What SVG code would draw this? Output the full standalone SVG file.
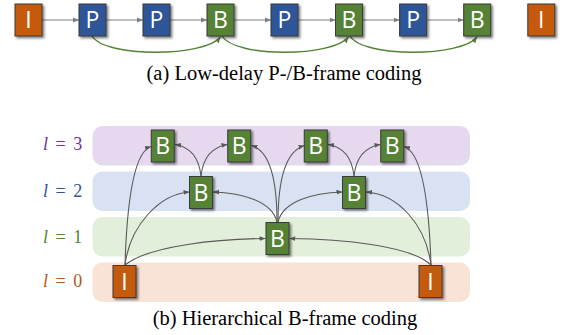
<svg xmlns="http://www.w3.org/2000/svg" width="565" height="335" viewBox="0 0 565 335">
<defs>
<style>
.fr{stroke:#3a3a3a;stroke-width:1;filter:url(#sh)}
.I{fill:#c55a11}.P{fill:#2f5597}.B{fill:#548235}
.lt{font-family:"Open Sans","Liberation Sans",sans-serif;font-size:23px;fill:#fff;text-anchor:middle}
.cap{font-family:"Liberation Serif","Times New Roman",serif;font-size:20.5px;fill:#000;text-anchor:middle}
.lv{font-family:"Liberation Serif","Times New Roman",serif;font-size:18px;word-spacing:3px}
.ga{fill:none;stroke:#7f7f7f;stroke-width:1.2;marker-end:url(#ah)}
.gb{fill:none;stroke:#595959;stroke-width:1.1;marker-end:url(#ah2)}
.gg{fill:none;stroke:#548235;stroke-width:1.3;marker-end:url(#ahg)}
</style>
<filter id="sh" x="-30%" y="-30%" width="160%" height="160%">
<feDropShadow dx="1.8" dy="1.8" stdDeviation="1.1" flood-color="#000" flood-opacity="0.5"/>
</filter>
<marker id="ah" viewBox="0 0 10 10" refX="10" refY="5" markerWidth="6" markerHeight="6" markerUnits="userSpaceOnUse" orient="auto"><path d="M0,1 L10,5 L0,9 z" fill="#7f7f7f"/></marker>
<marker id="ah2" viewBox="0 0 10 10" refX="10" refY="5" markerWidth="6" markerHeight="6" markerUnits="userSpaceOnUse" orient="auto"><path d="M0,1 L10,5 L0,9 z" fill="#595959"/></marker>
<marker id="ahg" viewBox="0 0 10 10" refX="10" refY="5" markerWidth="6" markerHeight="6" markerUnits="userSpaceOnUse" orient="auto"><path d="M0,1 L10,5 L0,9 z" fill="#548235"/></marker>
</defs>

<!-- Part (a) -->
<g id="a-connectors">
<line class="ga" x1="42" y1="20" x2="79" y2="20"/>
<line class="ga" x1="106" y1="20" x2="143" y2="20"/>
<line class="ga" x1="170" y1="20" x2="207" y2="20"/>
<line class="ga" x1="234" y1="20" x2="271" y2="20"/>
<line class="ga" x1="298" y1="20" x2="335.5" y2="20"/>
<line class="ga" x1="362.5" y1="20" x2="399.6" y2="20"/>
<line class="ga" x1="426.6" y1="20" x2="463.7" y2="20"/>
<path class="gg" d="M92,36 C105,58 205,57 220.5,37"/>
<path class="gg" d="M222,36 C235,58 333,57 348.5,37"/>
<path class="gg" d="M350,36 C363,58 462,57 477,37"/>
</g>
<g id="a-I1"><rect class="fr I" x="15" y="4" width="27" height="32"/><text class="lt" x="28.5" y="28.3">I</text></g>
<g id="a-P1"><rect class="fr P" x="79" y="4" width="27" height="32"/><text class="lt" x="92.5" y="28.3">P</text></g>
<g id="a-P2"><rect class="fr P" x="143" y="4" width="27" height="32"/><text class="lt" x="156.5" y="28.3">P</text></g>
<g id="a-B1"><rect class="fr B" x="207" y="4" width="27" height="32"/><text class="lt" x="220.5" y="28.3">B</text></g>
<g id="a-P3"><rect class="fr P" x="271" y="4" width="27" height="32"/><text class="lt" x="284.5" y="28.3">P</text></g>
<g id="a-B2"><rect class="fr B" x="335.5" y="4" width="27" height="32"/><text class="lt" x="349" y="28.3">B</text></g>
<g id="a-P4"><rect class="fr P" x="399.6" y="4" width="27" height="32"/><text class="lt" x="413.1" y="28.3">P</text></g>
<g id="a-B3"><rect class="fr B" x="463.7" y="4" width="27" height="32"/><text class="lt" x="477.2" y="28.3">B</text></g>
<g id="a-I2"><rect class="fr I" x="527.8" y="4" width="27" height="32"/><text class="lt" x="541.3" y="28.3">I</text></g>
<text class="cap" x="284" y="80">(a) Low-delay P-/B-frame coding</text>

<!-- Part (b) lanes -->
<g id="lanes">
<rect x="92.5" y="126" width="377.5" height="39.5" rx="10" fill="#e6d9ef"/>
<rect x="92.5" y="171.5" width="377.5" height="39.5" rx="10" fill="#d9e2f2"/>
<rect x="92.5" y="217" width="377.5" height="39.5" rx="10" fill="#e2efda"/>
<rect x="92.5" y="262.5" width="377.5" height="39.5" rx="10" fill="#f9e3d6"/>
</g>
<g id="levels">
<text class="lv" x="43" y="150" fill="#7030a0"><tspan font-style="italic">l</tspan> = 3</text>
<text class="lv" x="43" y="196.5" fill="#2f5597"><tspan font-style="italic">l</tspan> = 2</text>
<text class="lv" x="43" y="242.5" fill="#548235"><tspan font-style="italic">l</tspan> = 1</text>
<text class="lv" x="43" y="287" fill="#b5561a"><tspan font-style="italic">l</tspan> = 0</text>
</g>

<g id="b-connectors">
<path class="gb" d="M125,265 C127,200 134,152 151,146.5"/>
<path class="gb" d="M125,265 C130,225 160,194 189.5,192"/>
<path class="gb" d="M125,265 C150,245 220,239 265.5,238.5"/>
<path class="gb" d="M431,265 C410,245 340,239 289.5,238.5"/>
<path class="gb" d="M431,265 C426,225 398,194 366,192"/>
<path class="gb" d="M431,265 C429,200 421,152 404,146.5"/>
<path class="gb" d="M277,222 C272,201 242,193 213,192"/>
<path class="gb" d="M278,222 C283,201 313,193 342.5,192"/>
<path class="gb" d="M277,222 C277,180 270,151 251.5,145.5"/>
<path class="gb" d="M278,222 C278,180 286,151 304.5,145.5"/>
<path class="gb" d="M201,176 C199,158 191,147 175,144.5"/>
<path class="gb" d="M201,176 C203,158 212,147 227.5,144.5"/>
<path class="gb" d="M354,176 C352,158 344,147 328,144.5"/>
<path class="gb" d="M354,176 C356,158 365,147 380.5,144.5"/>
</g>

<g id="b-I1"><rect class="fr I" x="113" y="265.5" width="23" height="32"/><text class="lt" x="124.5" y="290">I</text></g>
<g id="b-B3a"><rect class="fr B" x="151.25" y="130" width="23" height="32"/><text class="lt" x="162.75" y="154.3">B</text></g>
<g id="b-B2a"><rect class="fr B" x="189.5" y="176.5" width="23" height="32"/><text class="lt" x="201" y="200.8">B</text></g>
<g id="b-B3b"><rect class="fr B" x="227.75" y="130" width="23" height="32"/><text class="lt" x="239.25" y="154.3">B</text></g>
<g id="b-B1"><rect class="fr B" x="266" y="222.5" width="23" height="32"/><text class="lt" x="277.5" y="246.8">B</text></g>
<g id="b-B3c"><rect class="fr B" x="304.25" y="130" width="23" height="32"/><text class="lt" x="315.75" y="154.3">B</text></g>
<g id="b-B2b"><rect class="fr B" x="342.5" y="176.5" width="23" height="32"/><text class="lt" x="354" y="200.8">B</text></g>
<g id="b-B3d"><rect class="fr B" x="380.75" y="130" width="23" height="32"/><text class="lt" x="392.25" y="154.3">B</text></g>
<g id="b-I2"><rect class="fr I" x="419" y="265.5" width="23" height="32"/><text class="lt" x="430.5" y="290">I</text></g>
<text class="cap" x="285" y="325">(b) Hierarchical B-frame coding</text>
</svg>
